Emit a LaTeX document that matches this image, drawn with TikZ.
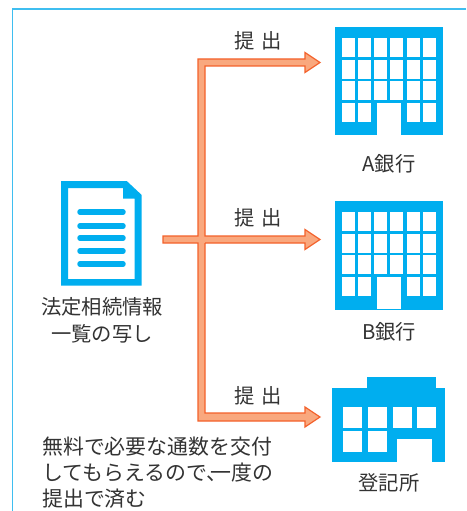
\documentclass[tikz,border=0pt]{standalone}
\usepackage{fontspec}
\setmainfont{Noto Sans CJK JP}
\definecolor{cy}{HTML}{00AEEF}
\definecolor{fr}{HTML}{3FBEF0}
\definecolor{arrf}{HTML}{F9A87E}
\definecolor{arrd}{HTML}{F4612B}
\definecolor{tx}{HTML}{333333}
\tikzset{
  lbl/.style={text=tx,inner sep=0pt,font=\fontsize{20.3}{27}\selectfont,align=center},
  lbll/.style={text=tx,inner sep=0pt,font=\fontsize{20.9}{26}\selectfont,align=left,anchor=north west},
  win/.style={fill=white,draw=none},
  blue/.style={fill=cy,draw=none},
  docline/.style={draw=cy,line width=5.5pt,line cap=round}
}
\begin{document}
\begin{tikzpicture}[x=1pt,y=-1pt]
\useasboundingbox (0,0) rectangle (466,511);
\fill[white] (0,0) rectangle (466,511);
% frame
\draw[fr,line width=1.4pt] (466,9) -- (12.5,9) -- (12.5,511);
% arrow
\draw[arrd,line width=1.2pt,fill=arrf,line join=miter]
 (163,236) -- (198,236) -- (198,59) -- (305,59) -- (305,52.5) -- (320,62.5) -- (305,72.5) -- (305,66)
 -- (205,66) -- (205,236) -- (305,236) -- (305,229.5) -- (320,239.5) -- (305,249.5) -- (305,243)
 -- (205,243) -- (205,413) -- (305,413) -- (305,407) -- (320,417) -- (305,427) -- (305,421)
 -- (198,421) -- (198,243) -- (163,243) -- cycle;
\fill[arrf] (198.5,236.5) rectangle (204.5,242.5);
% document
\fill[blue,even odd rule] (61,181) -- (126.7,181) -- (141.7,195) -- (141.7,285.7) -- (61,285.7) -- cycle
  (68,188) -- (68,279) -- (134.7,279) -- (134.7,198.7) -- (123,198.7) -- (123,188) -- cycle;
\foreach \yy in {212,226,238,251,264} \draw[docline] (80,\yy) -- (123,\yy);
% bank A
\fill[blue] (335,27) rectangle (443,135);
\foreach \ya/\yb in {38/57,60/79,81/100,103/122}
  \foreach \xa/\xb in {342/355,358/371,407/420,423/436}
    \fill[win] (\xa,\ya) rectangle (\xb,\yb);
\foreach \ya/\yb in {38/57,60/79,81/100}
  \foreach \xa/\xb in {374/387,390/403}
    \fill[win] (\xa,\ya) rectangle (\xb,\yb);
\fill[win] (377,103) rectangle (401,135.5);
% bank B
\fill[blue] (335,201) rectangle (443,309.7);
\foreach \ya/\yb in {212/231,234/253,255/274,277/296}
  \foreach \xa/\xb in {342/355,358/371,407/420,423/436}
    \fill[win] (\xa,\ya) rectangle (\xb,\yb);
\foreach \ya/\yb in {212/231,234/253,255/274}
  \foreach \xa/\xb in {374/387,390/403}
    \fill[win] (\xa,\ya) rectangle (\xb,\yb);
\fill[win] (377,277) rectangle (401,309);
% registry
\fill[blue] (367,377) rectangle (436,389);
\fill[blue] (332,388) rectangle (445,462);
\foreach \xa/\xb in {343/362,368/387,393/412,417/436}
  \fill[win] (\xa,407) rectangle (\xb,428);
\foreach \xa/\xb in {343/362,368/387}
  \fill[win] (\xa,431) rectangle (\xb,452);
\fill[win] (397,439) rectangle (432,462.5);
% labels
\node[lbl] (t1) at (258,41) {提\hspace{0.32em}出};
\node[lbl] (t2) at (258,218) {提\hspace{0.32em}出};
\node[lbl] (t3) at (258,396) {提\hspace{0.32em}出};
\node[lbl] (a) at (389,164) {A銀行};
\node[lbl] (b) at (389,332) {B銀行};
\node[lbl] (c) at (389,483) {登記所};
\node[lbl] (d) at (102,320.5) {法定相続情報\\一覧の写し};
\node[lbll] (n) at (42,436.5) {無料で必要な通数を交付\\してもらえるので、\hspace{-0.78em}一度の\\提出で済む};
\end{tikzpicture}
\end{document}
